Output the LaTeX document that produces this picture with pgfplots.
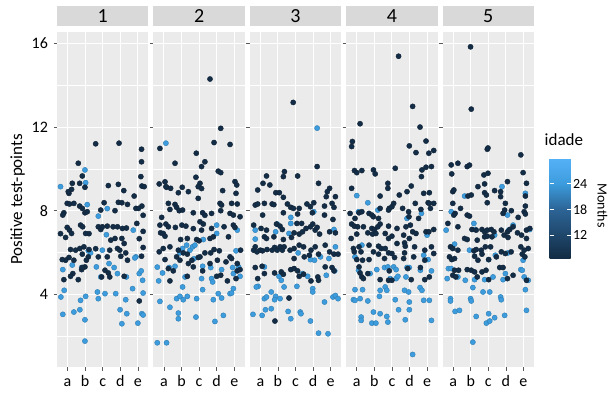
\documentclass[border=0pt]{standalone}
\usepackage{fontspec}
\setmainfont{Carlito}
\usepackage{pgfplots}
\usepackage{pgfplotstable}
\pgfplotsset{compat=1.18}
\usepgfplotslibrary{groupplots}
\definecolor{panelbg}{HTML}{EBEBEB}
\definecolor{stripbg}{HTML}{D9D9D9}
\pgfplotsset{colormap={gg}{rgb255(0pt)=(19,43,67) rgb255(114pt)=(44,100,150) rgb255(174pt)=(60,156,221) rgb255(232pt)=(86,177,247)},
  pts/.style={scatter, only marks, mark=*, mark size=2.6bp, point meta=explicit}}

\pgfplotstableread{
x y m
0.60 9.15 24
0.73 5.18 24
0.62 3.87 24
0.81 4.19 24
0.73 3.04 24
1.27 5.40 24
1.36 3.15 24
1.70 3.26 24
1.74 3.71 24
1.80 5.28 24
1.99 9.95 24
2.03 9.34 24
2.12 8.29 24
2.03 3.90 24
1.99 2.78 24
1.99 1.76 24
2.18 6.08 24
2.31 5.98 24
2.64 5.31 24
2.70 4.11 24
2.75 3.79 24
2.75 7.74 24
2.89 4.83 24
2.98 6.11 24
3.13 4.03 24
3.21 6.85 24
3.26 8.10 24
3.36 5.47 24
3.65 5.28 24
3.74 4.03 24
3.84 4.99 24
3.99 3.26 24
4.09 2.59 24
4.31 3.74 24
4.35 4.83 24
4.37 3.07 24
4.70 4.27 24
4.74 7.07 24
4.89 5.79 24
5.00 2.62 24
5.08 4.99 24
5.23 3.07 24
5.30 3.01 24
5.27 4.67 24
5.30 4.06 24
5.19 5.12 24
4.83 5.74 24
2.60 11.20 7
3.93 11.23 7
1.61 10.27 7
5.21 10.94 7
5.21 10.34 7
5.17 9.63 7
5.23 9.18 7
5.36 9.15 7
5.23 8.22 7
5.30 7.78 7
4.94 7.39 7
5.30 7.01 7
5.08 6.66 7
5.30 6.24 7
5.21 5.82 7
5.08 3.68 7
4.79 8.70 7
4.89 8.11 7
5.04 8.11 7
4.20 8.96 7
3.89 9.26 7
3.89 8.40 7
4.09 8.38 7
4.41 8.30 7
3.70 8.00 7
3.32 9.20 7
3.08 8.38 7
2.89 8.03 7
2.75 7.23 7
2.89 7.10 7
2.98 7.23 7
3.26 7.26 7
3.59 7.23 7
3.84 7.23 7
4.12 7.15 7
4.35 7.17 7
4.09 6.67 7
4.22 6.43 7
3.84 6.19 7
3.97 6.11 7
4.31 5.98 7
4.41 5.63 7
4.03 5.82 7
3.70 6.67 7
3.46 6.59 7
3.40 6.11 7
3.26 5.79 7
3.13 5.15 7
3.32 5.02 7
3.40 4.83 7
2.94 4.83 7
4.22 4.86 7
2.60 6.18 7
2.75 5.79 7
2.22 6.90 7
2.22 6.14 7
2.18 5.79 7
2.07 5.63 7
1.99 5.31 7
1.80 5.18 7
1.84 5.92 7
1.93 6.27 7
1.70 6.19 7
1.46 6.11 7
1.17 6.14 7
0.89 5.63 7
0.70 5.66 7
1.08 5.76 7
1.36 5.63 7
1.30 4.99 7
1.17 4.86 7
0.79 4.70 7
1.61 4.70 7
1.84 5.28 7
0.60 6.90 7
0.98 7.20 7
1.11 7.07 7
1.23 6.91 7
0.89 6.72 7
1.74 7.31 7
1.86 7.23 7
2.03 6.91 7
0.79 7.90 7
0.73 7.79 7
0.98 8.35 7
1.11 8.32 7
1.36 8.35 7
1.69 8.22 7
1.84 8.11 7
1.99 7.90 7
2.12 7.95 7
1.08 8.83 7
1.04 8.91 7
1.27 9.31 7
1.23 9.02 7
1.69 9.31 7
1.84 9.66 7
1.99 9.12 7
}\pA

\pgfplotstableread{
x y m
0.62 1.68 24
1.15 1.68 24
1.11 11.23 24
0.62 5.30 24
0.70 4.64 24
0.77 3.66 24
0.92 5.02 24
1.34 3.38 24
1.30 5.28 24
1.63 5.34 24
1.72 3.79 24
1.82 3.10 24
1.82 2.83 24
1.91 3.90 24
2.06 4.35 24
2.10 3.74 24
2.33 3.90 24
2.20 4.83 24
1.91 5.98 24
2.06 6.19 24
2.29 6.35 24
2.48 6.11 24
2.63 6.27 24
2.76 6.35 24
2.71 5.70 24
2.86 3.79 24
2.82 2.91 24
3.14 4.75 24
3.20 5.34 24
3.20 4.22 24
3.24 6.62 24
3.66 5.28 24
3.71 4.75 24
3.77 4.59 24
3.81 3.74 24
3.90 2.70 24
4.09 4.03 24
4.00 7.31 24
4.00 6.91 24
4.28 5.18 24
4.28 3.82 24
4.38 2.99 24
4.76 4.03 24
4.85 4.06 24
4.95 4.27 24
4.91 5.28 24
5.10 6.08 24
5.17 7.07 24
5.33 4.86 24
5.25 5.31 24
4.95 4.99 24
3.62 14.30 7
4.23 11.94 7
3.85 11.26 7
4.76 11.17 7
0.77 10.98 7
2.84 10.75 7
3.33 10.34 7
3.14 10.11 7
1.63 10.27 7
4.09 9.89 7
4.23 9.82 7
0.73 9.28 7
1.06 9.38 7
1.15 9.12 7
1.38 9.07 7
1.11 9.15 7
2.04 9.12 7
1.82 8.86 7
2.39 8.91 7
2.82 9.60 7
3.05 9.31 7
2.95 9.15 7
3.14 9.06 7
2.95 8.59 7
4.34 8.96 7
5.04 9.39 7
5.14 9.23 7
5.10 8.83 7
1.25 8.35 7
1.63 8.30 7
1.72 8.16 7
1.34 8.06 7
1.87 8.00 7
2.06 8.03 7
2.67 7.90 7
3.20 7.90 7
3.33 7.78 7
3.71 7.87 7
4.19 8.35 7
4.28 8.27 7
4.23 8.00 7
4.85 8.35 7
5.17 8.32 7
5.33 7.71 7
4.76 7.87 7
4.95 7.79 7
0.87 7.68 7
0.77 7.31 7
1.11 7.36 7
1.25 7.23 7
1.65 7.20 7
2.02 7.31 7
2.25 7.26 7
2.67 7.14 7
3.05 7.47 7
3.24 7.36 7
3.14 7.07 7
3.71 7.15 7
4.42 7.23 7
4.95 7.31 7
5.04 7.20 7
0.81 6.94 7
0.96 6.91 7
1.06 6.78 7
1.95 6.62 7
2.33 6.67 7
2.86 6.62 7
3.00 6.56 7
3.62 6.67 7
3.81 6.75 7
4.67 6.75 7
0.73 6.03 7
0.96 6.19 7
1.34 6.27 7
1.82 6.11 7
2.10 5.98 7
2.33 5.92 7
2.95 5.76 7
3.05 5.79 7
3.33 5.98 7
3.66 5.98 7
3.85 6.14 7
4.15 6.08 7
4.76 5.79 7
4.85 5.71 7
5.36 6.11 7
1.06 5.66 7
1.72 5.79 7
1.91 5.63 7
2.59 5.63 7
3.62 5.47 7
4.04 5.63 7
4.53 5.55 7
5.17 5.47 7
1.25 5.23 7
1.53 5.12 7
2.39 5.47 7
2.67 5.31 7
3.20 5.12 7
4.00 4.86 7
4.23 4.91 7
5.10 4.75 7
5.17 5.12 7
5.33 5.18 7
1.34 4.64 7
2.33 4.86 7
4.61 4.64 7
}\pB

\pgfplotstableread{
x y m
4.23 11.95 24
0.71 7.07 24
0.71 6.64 24
1.96 7.36 24
1.87 6.99 24
2.73 7.68 24
2.63 6.91 24
2.73 7.39 24
4.04 7.95 24
5.19 7.10 24
5.27 6.27 24
5.23 5.12 24
3.15 5.98 24
3.85 5.66 24
4.08 5.63 24
4.42 5.79 24
4.90 5.71 24
1.23 5.31 24
0.87 4.38 24
0.77 4.35 24
2.06 4.86 24
2.19 4.67 24
2.35 4.35 24
3.08 4.38 24
3.40 4.99 24
3.69 4.86 24
3.98 4.27 24
3.98 4.11 24
1.62 4.11 24
1.23 3.79 24
1.35 3.87 24
1.87 3.90 24
1.81 3.74 24
2.12 3.79 24
0.58 3.04 24
1.10 2.99 24
1.29 3.26 24
1.62 3.31 24
2.58 3.18 24
2.73 2.83 24
3.27 3.15 24
3.31 3.07 24
3.85 2.72 24
4.31 2.14 24
4.85 2.11 24
4.65 3.63 24
5.13 3.87 24
5.27 3.94 24
5.42 3.79 24
4.75 4.91 24
2.87 13.18 7
4.23 10.11 7
2.37 9.87 7
2.31 9.63 7
3.12 9.66 7
1.35 9.66 7
1.15 9.31 7
1.54 9.23 7
4.31 9.31 7
0.85 8.99 7
1.88 8.86 7
2.08 8.86 7
2.31 8.64 7
4.94 9.07 7
4.81 8.91 7
4.75 8.67 7
5.27 8.67 7
0.71 8.27 7
0.85 8.32 7
1.23 8.35 7
1.67 8.32 7
1.77 8.29 7
2.54 8.32 7
2.73 8.16 7
2.88 8.11 7
3.21 8.11 7
3.65 8.32 7
4.04 8.38 7
3.85 8.19 7
4.65 8.22 7
5.08 8.35 7
5.19 8.16 7
1.13 7.79 7
2.31 7.90 7
3.12 7.84 7
3.96 7.90 7
4.65 7.79 7
5.13 7.58 7
0.62 7.31 7
1.04 7.15 7
1.35 7.07 7
1.92 7.36 7
2.12 7.26 7
2.25 7.10 7
3.08 7.39 7
3.35 7.39 7
3.60 7.15 7
3.85 7.23 7
3.98 7.36 7
4.12 7.07 7
4.23 7.20 7
4.37 6.88 7
4.94 6.99 7
5.27 6.94 7
1.23 6.75 7
1.35 6.67 7
1.77 6.75 7
2.31 6.62 7
2.77 6.72 7
2.92 6.94 7
3.21 6.88 7
3.40 6.99 7
0.71 6.27 7
0.62 6.11 7
0.81 6.03 7
1.00 6.11 7
1.12 6.08 7
1.38 6.14 7
1.67 6.11 7
1.81 6.24 7
1.96 6.11 7
2.12 6.27 7
2.25 6.11 7
2.35 6.27 7
2.69 6.11 7
2.92 6.19 7
3.21 6.35 7
3.46 6.27 7
3.88 6.11 7
4.12 6.27 7
4.31 5.92 7
4.69 6.35 7
4.94 6.03 7
5.19 5.92 7
5.42 5.92 7
2.92 5.71 7
3.50 5.79 7
3.79 5.87 7
0.71 5.28 7
1.10 5.34 7
1.23 4.99 7
0.85 4.75 7
1.81 5.02 7
2.19 5.07 7
2.31 4.96 7
2.73 5.18 7
2.92 5.23 7
3.12 5.12 7
3.21 4.86 7
3.46 4.96 7
3.88 4.64 7
4.27 4.83 7
4.31 4.67 7
4.69 5.31 7
5.08 5.28 7
5.19 5.12 7
2.63 3.82 7
1.83 2.72 7
}\pC

\pgfplotstableread{
x y m
4.18 1.12 24
1.00 8.72 24
1.63 8.38 24
2.20 8.03 24
4.68 7.87 24
1.10 7.95 24
1.29 6.35 24
0.90 5.79 24
5.00 6.83 24
3.86 7.63 24
4.81 5.87 24
5.06 5.66 24
1.10 5.15 24
1.76 4.99 24
2.14 5.18 24
2.58 5.28 24
2.77 5.31 24
3.10 5.31 24
3.24 5.18 24
3.86 5.28 24
3.99 5.28 24
3.24 4.75 24
3.34 4.86 24
3.80 4.83 24
4.62 5.15 24
5.25 5.12 24
0.90 4.22 24
1.33 4.22 24
2.33 4.19 24
2.62 4.35 24
2.90 4.75 24
2.71 4.19 24
3.72 4.19 24
3.95 4.11 24
4.60 4.32 24
4.71 4.19 24
0.81 3.74 24
0.90 3.71 24
1.19 3.79 24
1.63 3.68 24
2.29 3.90 24
3.19 3.74 24
3.99 3.63 24
4.81 3.71 24
5.13 3.71 24
1.25 2.91 24
1.25 2.75 24
1.86 2.62 24
1.95 3.15 24
2.09 2.62 24
2.33 3.07 24
2.71 2.94 24
2.77 2.67 24
3.38 3.26 24
3.76 2.78 24
3.99 3.26 24
5.25 2.75 24
3.38 15.39 7
4.18 12.99 7
1.19 12.16 7
4.60 12.00 7
0.75 11.31 7
0.71 11.07 7
4.94 11.33 7
3.99 11.10 7
4.37 10.78 7
5.10 10.75 7
5.38 10.88 7
0.87 9.92 7
1.00 9.82 7
1.29 9.92 7
1.95 9.95 7
2.05 9.76 7
3.19 10.03 7
4.71 9.95 7
4.94 10.08 7
5.25 10.11 7
4.68 9.63 7
2.77 9.31 7
2.77 9.07 7
0.71 9.07 7
4.10 9.18 7
3.86 8.91 7
3.42 8.75 7
2.33 8.70 7
4.81 8.83 7
5.13 8.86 7
5.06 8.38 7
5.13 8.35 7
5.38 8.35 7
4.33 8.35 7
2.33 8.11 7
2.85 8.11 7
3.00 8.19 7
3.10 8.35 7
2.81 8.03 7
3.61 8.11 7
3.95 7.95 7
4.65 8.06 7
5.19 8.11 7
0.62 7.87 7
1.13 7.90 7
1.29 7.95 7
1.70 7.87 7
1.86 7.79 7
1.95 7.71 7
2.24 7.63 7
0.90 7.63 7
3.97 7.71 7
4.52 7.63 7
0.71 7.36 7
0.86 7.26 7
1.05 7.23 7
1.38 7.23 7
1.86 7.15 7
2.01 7.10 7
2.20 7.23 7
2.33 7.36 7
2.81 7.26 7
3.29 7.15 7
3.80 7.23 7
4.05 7.31 7
4.18 6.99 7
4.37 6.91 7
4.94 6.99 7
5.10 6.99 7
5.38 7.10 7
0.68 6.67 7
1.00 6.88 7
1.63 6.94 7
1.90 6.88 7
2.09 6.91 7
2.62 6.91 7
2.81 6.67 7
3.00 6.78 7
3.67 6.83 7
3.72 6.46 7
3.99 6.67 7
0.81 6.19 7
1.13 6.27 7
1.70 6.35 7
2.24 6.30 7
2.39 6.19 7
2.62 6.19 7
3.29 6.43 7
3.76 6.30 7
4.29 6.27 7
4.87 6.11 7
5.25 6.27 7
5.38 5.95 7
0.86 6.03 7
1.24 6.03 7
1.95 6.03 7
2.24 5.92 7
2.81 5.98 7
3.00 5.95 7
3.72 5.98 7
4.24 5.79 7
1.00 5.66 7
1.33 5.63 7
1.70 5.66 7
2.58 5.71 7
3.15 5.76 7
3.67 5.71 7
4.87 5.63 7
3.90 5.23 7
4.62 5.28 7
1.13 5.31 7
1.19 5.02 7
1.29 4.83 7
1.38 4.75 7
1.63 4.99 7
2.85 5.12 7
2.33 4.70 7
2.81 4.67 7
3.00 4.67 7
4.10 4.70 7
4.87 4.70 7
5.13 4.83 7
}\pD

\pgfplotstableread{
x y m
2.12 1.71 24
0.60 7.07 24
0.89 7.95 24
1.65 8.70 24
2.18 7.39 24
2.26 7.10 24
3.36 6.83 24
3.78 9.15 24
4.09 7.79 24
4.41 7.31 24
4.16 7.07 24
5.11 8.83 24
5.36 7.10 24
4.98 5.63 24
1.08 6.40 24
3.40 5.87 24
4.12 5.98 24
1.93 6.11 24
3.02 5.66 24
0.73 5.23 24
0.89 5.23 24
0.66 4.75 24
1.27 4.83 24
1.69 4.67 24
2.22 4.70 24
2.79 4.70 24
3.27 4.83 24
3.84 4.70 24
3.97 4.99 24
4.85 5.18 24
4.93 5.15 24
5.04 4.83 24
5.27 4.67 24
2.12 4.32 24
2.70 4.11 24
3.08 4.11 24
0.85 3.79 24
0.85 3.68 24
1.99 3.79 24
2.03 3.68 24
3.70 3.87 24
3.74 3.74 24
5.11 4.22 24
5.17 3.23 24
1.11 3.18 24
1.36 3.23 24
2.31 2.94 24
2.89 2.62 24
3.08 2.72 24
3.36 2.88 24
3.93 2.99 24
3.02 3.07 24
1.99 15.84 7
2.03 12.86 7
2.94 10.94 7
2.98 11.00 7
4.85 10.67 7
0.89 10.19 7
1.27 10.27 7
1.80 10.11 7
1.93 10.18 7
4.98 9.82 7
0.92 9.76 7
2.75 9.71 7
2.98 9.79 7
2.79 9.28 7
2.41 9.15 7
2.79 8.86 7
2.89 8.75 7
3.36 8.96 7
4.09 9.39 7
3.70 8.91 7
5.17 9.31 7
0.98 8.91 7
1.04 8.99 7
1.84 8.70 7
2.03 8.75 7
2.94 8.38 7
3.70 8.67 7
3.97 8.35 7
5.11 8.70 7
5.11 8.22 7
0.98 8.35 7
1.42 8.11 7
1.11 7.87 7
1.04 7.79 7
1.80 7.79 7
1.93 7.74 7
3.93 8.03 7
3.84 7.87 7
4.31 8.00 7
5.04 7.95 7
5.11 7.84 7
4.70 7.68 7
0.70 7.39 7
1.27 7.23 7
2.07 7.10 7
2.31 7.07 7
2.64 7.10 7
2.79 6.99 7
2.94 7.07 7
3.17 7.10 7
3.32 6.99 7
3.74 7.07 7
4.09 6.99 7
4.22 7.10 7
4.41 7.23 7
4.66 6.94 7
5.17 7.07 7
5.36 7.15 7
1.65 6.67 7
1.80 6.62 7
2.37 6.59 7
2.79 6.75 7
2.94 6.78 7
3.21 6.75 7
3.90 6.83 7
4.12 6.72 7
4.89 6.83 7
5.17 6.67 7
0.85 6.27 7
0.98 6.19 7
1.27 6.11 7
2.18 6.08 7
2.31 6.14 7
2.60 6.11 7
2.83 6.27 7
3.13 6.27 7
3.74 6.03 7
4.30 6.03 7
4.85 6.27 7
5.04 6.11 7
5.27 6.19 7
0.79 5.79 7
0.92 5.66 7
1.08 5.71 7
2.22 5.82 7
2.41 5.63 7
2.64 5.92 7
3.02 5.66 7
3.46 5.79 7
3.97 5.95 7
4.93 5.92 7
5.08 5.79 7
1.08 5.15 7
1.31 5.15 7
0.98 4.91 7
1.15 4.83 7
1.80 5.18 7
2.03 5.15 7
2.22 5.07 7
2.37 4.83 7
2.64 5.07 7
2.87 5.15 7
3.02 4.70 7
3.65 5.28 7
3.84 5.28 7
4.09 4.75 7
4.41 4.91 7
5.17 4.67 7
}\pE

\begin{document}
\fontsize{16bp}{19bp}\selectfont
\begin{tikzpicture}
\begin{groupplot}[
  group style={group size=5 by 1, horizontal sep=5bp, yticklabels at=edge left, ylabels at=edge left},
  scale only axis, width=91.4bp, height=335bp,
  xmin=0.4, xmax=5.6, ymin=0.52, ymax=16.55,
  xtick={1,2,3,4,5}, xticklabels={a,b,c,d,e},
  ytick={4,8,12,16}, minor ytick={2,6,10,14},
  xmajorgrids, ymajorgrids, yminorgrids,
  major grid style={white, line width=1.1bp},
  minor grid style={white, line width=0.55bp},
  axis background/.style={fill=panelbg},
  axis line style={draw=none},
  tick pos=left, tick align=outside,
  major tick length=3.5bp, minor tick length=0pt,
  tick style={color=black!65, line width=0.6bp},
  /pgf/number format/assume math mode=true,
  ticklabel style={font=\fontsize{16bp}{19bp}\selectfont},
  xticklabel style={text height=11bp, text depth=0bp, inner sep=2bp, yshift=-3bp},
  label style={font=\fontsize{17bp}{20bp}\selectfont},
  ylabel style={yshift=-4bp},
  title style={at={(0.5,1)}, anchor=south, fill=stripbg, minimum width=91.4bp, minimum height=20bp, inner sep=0pt, font=\fontsize{20bp}{24bp}\selectfont},
  colormap name=gg, point meta min=6.6, point meta max=29.8,
  colorbar/width=21bp,
]
\nextgroupplot[title={1}, ylabel={Positive test-points}]
\addplot[pts] table[x=x, y=y, meta=m] {\pA};
\nextgroupplot[title={2}]
\addplot[pts] table[x=x, y=y, meta=m] {\pB};
\nextgroupplot[title={3}]
\addplot[pts] table[x=x, y=y, meta=m] {\pC};
\nextgroupplot[title={4}]
\addplot[pts] table[x=x, y=y, meta=m] {\pD};
\nextgroupplot[title={5}, colorbar, colorbar style={
  scale only axis, width=21bp, height=100bp,
  at={(parent axis.east)}, anchor=west, xshift=7bp, yshift=-9bp,
  xtick=\empty, ytick={12,18,24}, minor ytick={}, 
  xmajorgrids=false, ymajorgrids=false, yminorgrids=false,
  axis line style={draw=none},
  tick align=inside, major tick length=4bp, tick pos=both,
  tick style={color=white, line width=0.6bp},
  yticklabel pos=right,
  yticklabel style={font=\fontsize{14bp}{16bp}\selectfont, xshift=-3bp},
  title={idade}, title style={at={(0,1)}, anchor=south west, fill=none, minimum width=0pt, minimum height=0pt, inner sep=0pt, xshift=-5bp, yshift=7bp, font=\fontsize{17bp}{20bp}\selectfont},
  ylabel={Months},
  every axis y label/.style={at={(axis description cs:1,0.5)}, xshift=32bp, yshift=3bp, rotate=-90, anchor=center, inner sep=0pt, font=\fontsize{14bp}{16bp}\selectfont},
}]
\addplot[pts] table[x=x, y=y, meta=m] {\pE};
\end{groupplot}
\path (group c1r1.south west) ++(-57bp,-26bp) coordinate (BL);
\path (group c5r1.north east) ++(74bp,32bp) coordinate (TR);
\pgfresetboundingbox
\path[use as bounding box] (BL) rectangle (TR);
\end{tikzpicture}
\end{document}
